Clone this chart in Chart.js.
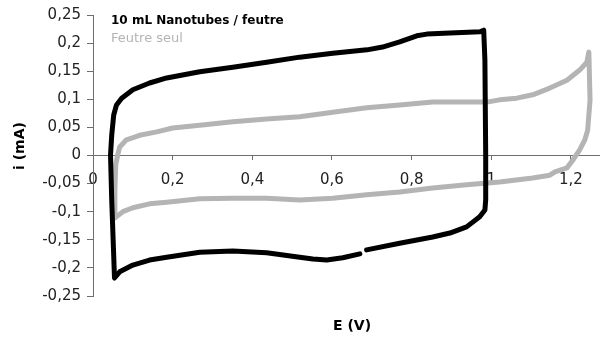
<!DOCTYPE html>
<html>
<head>
<meta charset="utf-8">
<script src="https://cdn.jsdelivr.net/npm/chart.js@4.4.0/dist/chart.umd.min.js"></script>
<style>
  html, body { margin: 0; padding: 0; background: #fff; }
  #wrap { width: 600px; height: 340px; }
</style>
</head>
<body>
<div id="wrap"><canvas id="cv" width="600" height="340"></canvas></div>
<script>
// Voltammogramme : nanotubes sur feutre / feutre seul
const seriesNames = ["10 mL Nanotubes / feutre", "Feutre seul"];

// potentiel E (V) et courant i (mA) (null = trou du tracé)
const nanoE = [0.044, 0.047, 0.052, 0.059, 0.072, 0.100, 0.142, 0.185, 0.268, 0.351, 0.436, 0.519,
  0.602, 0.688, 0.727, 0.770, 0.813, 0.838, 0.896, 0.972, 0.981,
  0.984, 0.986, 0.986, 0.984, 0.971, 0.938, 0.896, 0.853, 0.770, 0.687, 0.678,
  0.670, 0.627, 0.587, 0.552, 0.519, 0.436, 0.351, 0.268, 0.185, 0.142, 0.100, 0.067, 0.054, 0.047, 0.044];
const nanoI = [0.001, 0.036, 0.072, 0.090, 0.102, 0.117, 0.129, 0.138, 0.149, 0.157, 0.166, 0.175,
  0.182, 0.188, 0.193, 0.202, 0.213, 0.216, 0.218, 0.220, 0.223,
  0.170, 0.001, -0.079, -0.097, -0.109, -0.127, -0.138, -0.145, -0.156, -0.168, null,
  -0.175, -0.182, -0.186, -0.184, -0.181, -0.173, -0.170, -0.172, -0.181, -0.186, -0.195, -0.207, -0.218, -0.079, 0.001];

const feutreE = [0.055, 0.055, 0.057, 0.062, 0.067, 0.084, 0.117, 0.160, 0.200, 0.268, 0.351, 0.436, 0.519,
  0.602, 0.687, 0.770, 0.853, 0.938, 0.989, 1.021, 1.064, 1.104, 1.147, 1.190, 1.222, 1.240, 1.245,
  1.248, 1.242, 1.235, 1.222, 1.205, 1.190, 1.160, 1.147, 1.104, 1.021, 0.938, 0.853, 0.770, 0.687,
  0.602, 0.519, 0.436, 0.351, 0.268, 0.185, 0.142, 0.100, 0.075, 0.055];
const feutreI = [-0.111, -0.061, -0.017, 0.001, 0.015, 0.028, 0.036, 0.042, 0.049, 0.054, 0.060, 0.065, 0.069,
  0.077, 0.085, 0.090, 0.095, 0.095, 0.095, 0.099, 0.102, 0.108, 0.120, 0.134, 0.152, 0.166, 0.184,
  0.099, 0.045, 0.028, 0.010, -0.008, -0.022, -0.029, -0.035, -0.040, -0.047, -0.052, -0.058, -0.065, -0.070,
  -0.076, -0.079, -0.076, -0.076, -0.077, -0.083, -0.086, -0.093, -0.100, -0.111];

const xTicks = [0, 0.2, 0.4, 0.6, 0.8, 1, 1.2];
const yTicks = [-0.25, -0.2, -0.15, -0.1, -0.05, 0, 0.05, 0.1, 0.15, 0.2, 0.25];

const FONT = '"DejaVu Sans", sans-serif';
const AXIS = '#6e6e6e';

function toPoints(xs, ys) {
  return xs.map((x, k) => ({ x: x, y: ys[k] }));
}
function virgule(v) {
  return String(Math.round(v * 100) / 100).replace('.', ',');
}

// textes : légende et titres d'axes
const textes = {
  id: 'textes',
  afterDraw(chart) {
    const ctx = chart.ctx;
    const a = chart.chartArea;
    ctx.save();
    ctx.textAlign = 'left';
    ctx.textBaseline = 'alphabetic';
    ctx.font = 'bold 12px ' + FONT;
    ctx.fillStyle = '#000';
    ctx.fillText(seriesNames[0], a.left + 18, 24);
    ctx.font = '13px ' + FONT;
    ctx.fillStyle = '#b4b4b4';
    ctx.fillText(seriesNames[1], a.left + 18, 42);

    ctx.fillStyle = '#000';
    ctx.font = 'bold 14px ' + FONT;
    ctx.textAlign = 'center';
    ctx.fillText('E (V)', 352, 330);
    ctx.translate(24, 146);
    ctx.rotate(-Math.PI / 2);
    ctx.fillText('i (mA)', 0, 0);
    ctx.restore();
  }
};

new Chart(document.getElementById('cv'), {
  type: 'scatter',
  data: {
    datasets: [{
      label: seriesNames[0],
      data: toPoints(nanoE, nanoI),
      showLine: true,
      borderColor: '#000',
      borderWidth: 5,
      pointRadius: 0,
      borderJoinStyle: 'round',
      borderCapStyle: 'round',
      spanGaps: false
    }, {
      label: seriesNames[1],
      data: toPoints(feutreE, feutreI),
      showLine: true,
      borderColor: '#b4b4b4',
      borderWidth: 5,
      pointRadius: 0,
      borderJoinStyle: 'round',
      borderCapStyle: 'round'
    }]
  },
  options: {
    responsive: false,
    animation: false,
    devicePixelRatio: 1,
    layout: { padding: { top: 15, bottom: 44, left: 0, right: 0 } },
    plugins: {
      legend: { display: false },
      tooltip: { enabled: false }
    },
    scales: {
      x: {
        type: 'linear',
        position: { y: 0 },
        min: 0,
        max: 1.273,
        afterBuildTicks: s => { s.ticks = xTicks.map(v => ({ value: v })); },
        grid: { drawOnChartArea: false, tickLength: 4, color: AXIS },
        border: { color: AXIS, width: 1 },
        ticks: {
          color: '#222',
          padding: 12,
          maxRotation: 0,
          autoSkip: false,
          font: { family: FONT, size: 15 },
          callback: v => virgule(v)
        }
      },
      y: {
        type: 'linear',
        min: -0.25,
        max: 0.25,
        afterFit: s => { s.width = 93; },
        afterBuildTicks: s => { s.ticks = yTicks.map(v => ({ value: v })); },
        grid: { drawOnChartArea: false, tickLength: 6, color: AXIS },
        border: { color: AXIS, width: 1 },
        ticks: {
          color: '#222',
          padding: 6,
          font: { family: FONT, size: 15 },
          callback: v => virgule(v)
        }
      }
    }
  },
  plugins: [textes]
});
</script>
</body>
</html>
